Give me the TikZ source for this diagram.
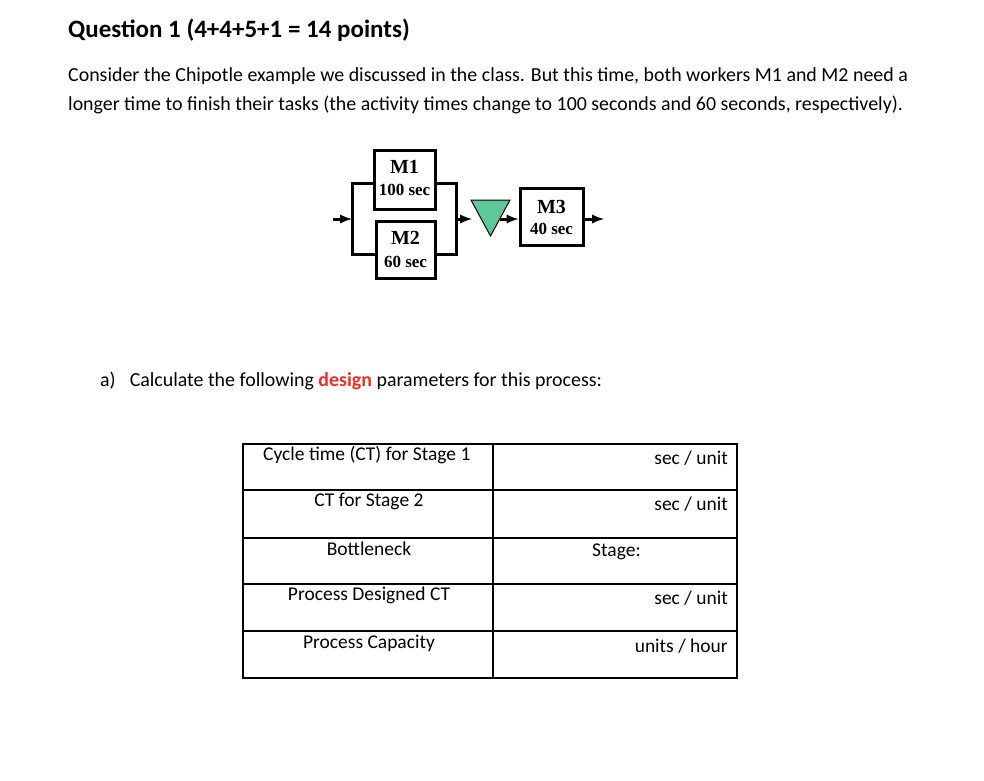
\documentclass[tikz,border=0pt]{standalone}
\usepackage{fontspec}
\setmainfont{Carlito}
\newfontfamily\serifb{Liberation Serif}
\begin{document}
\begin{tikzpicture}[x=1pt,y=-1pt,
  box/.style={draw,line width=3pt,inner sep=0pt},
  wire/.style={line width=3pt},
  arr/.style={line width=3pt,-latex},
  txt/.style={anchor=west,inner sep=0pt,font=\fontsize{19.9}{23}\selectfont},
  cell/.style={inner sep=0pt,font=\fontsize{19.5}{22}\selectfont},
  mlab/.style={inner sep=0pt,font=\serifb\bfseries\fontsize{20}{22}\selectfont},
  slab/.style={inner sep=0pt,font=\serifb\bfseries\fontsize{17}{19}\selectfont}]
\useasboundingbox[fill=white] (0,0) rectangle (984,780);
\node[txt,font=\bfseries\fontsize{25}{28}\selectfont] (title) at (68,30) {Question 1 (4+4+5+1 = 14 points)};
\node[txt] (l1) at (68,76) {Consider the Chipotle example we discussed in the class. But this time, both workers M1 and M2 need a};
\node[txt] (l2) at (68,105) {longer time to finish their tasks (the activity times change to 100 seconds and 60 seconds, respectively).};
% diagram
\node[box,minimum width=61,minimum height=59] (m1) at (404.5,179.5) {};
\node[mlab] (m1a) at (404.5,167) {M1};
\node[slab] (m1b) at (404.5,190) {100 sec};
\node[box,minimum width=59,minimum height=57] (m2) at (405.5,249.5) {};
\node[mlab] (m2a) at (405.5,238) {M2};
\node[slab] (m2b) at (405.5,262) {60 sec};
\node[box,minimum width=63,minimum height=57] (m3) at (551.5,216.5) {};
\node[mlab] (m3a) at (551.5,207) {M3};
\node[slab] (m3b) at (551.5,229) {40 sec};
\coordinate (in) at (333,219);
\coordinate (lb) at (352,219);
\coordinate (rb) at (456,219);
\coordinate (out) at (604,219);
\coordinate (tl) at (472,219);
\coordinate (tr) at (500,219);
\draw[wire] (m1.west|-0,183) -| (352,254) -- (m2.west|-0,254);
\draw[wire] (m1.east|-0,183) -| (456,254) -- (m2.east|-0,254);
\draw[arr] (in) -- (lb);
\draw[arr] (rb) -- (tl);
\draw[arr] (tr) -- (m3.west|-0,219);
\draw[arr] (m3.east|-0,219) -- (out);
\draw[line width=1pt,fill={rgb,255:red,95;green,200;blue,155}] (471,200) -- (510,200) -- (490.5,236) -- cycle;
% part a
\node[txt] (a) at (100,381) {a)\hspace{14pt}Calculate the following \textbf{\color[rgb]{0.9,0.2,0.15}design} parameters for this process:};
% table
\draw[line width=1.8pt] (243,444) rectangle (737,678);
\draw[line width=1.8pt] (493,444) -- (493,678);
\foreach \y in {490,538,584,631} \draw[line width=1.8pt] (243,\y) -- (737,\y);
\node[cell,anchor=west] (c1) at (263,455) {Cycle time (CT) for Stage 1};
\node[cell] (c2) at (369,501) {CT for Stage 2};
\node[cell] (c3) at (369,549) {Bottleneck};
\node[cell] (c4) at (369,595) {Process Designed CT};
\node[cell] (c5) at (369,643) {Process Capacity};
\node[cell,anchor=east] (r1) at (728,458) {sec / unit};
\node[cell,anchor=east] (r2) at (728,504) {sec / unit};
\node[cell,anchor=west] (r3) at (592,552) {Stage:};
\node[cell,anchor=east] (r4) at (728,598) {sec / unit};
\node[cell,anchor=east] (r5) at (728,646) {units / hour};
\end{tikzpicture}
\end{document}
